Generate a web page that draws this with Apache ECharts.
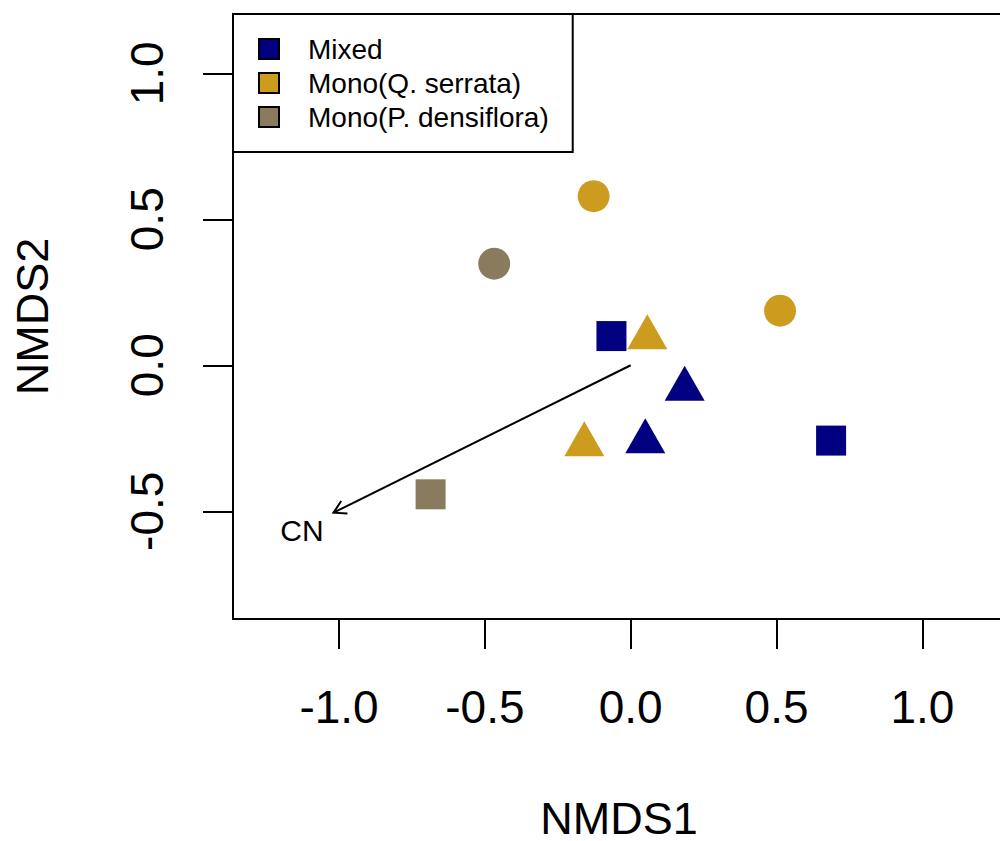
<!DOCTYPE html>
<html>
<head>
<meta charset="utf-8">
<script src="https://cdn.jsdelivr.net/npm/echarts@6/dist/echarts.min.js"></script>
<style>
  html, body { margin: 0; padding: 0; background: #fff; }
  #chart { width: 1000px; height: 841px; }
</style>
</head>
<body>
<div id="chart"></div>
<script>
// NMDS scores
const groupNames = ['Mixed', 'Mono(Q. serrata)', 'Mono(P. densiflora)'];

const mixedX = [-0.066, 0.185, 0.050, 0.687];
const mixedY = [0.100, -0.082, -0.262, -0.258];
const mixedShape = ['rect', 'triangle', 'triangle', 'rect'];

const serrataX = [-0.127, 0.512, 0.057, -0.159];
const serrataY = [0.579, 0.187, 0.094, -0.272];
const serrataShape = ['circle', 'circle', 'triangle', 'triangle'];

const densifloraX = [-0.468, -0.686];
const densifloraY = [0.348, -0.442];
const densifloraShape = ['circle', 'rect'];

// envfit vector (origin -> tip) and where its label sits
const vectorNames = ['CN'];
const vectorTipX = [-1.019];
const vectorTipY = [-0.505];
const vectorLabelX = [-1.127];
const vectorLabelY = [-0.567];

const xTicks = [-1.0, -0.5, 0.0, 0.5, 1.0];
const yTicks = [-0.5, 0.0, 0.5, 1.0];

const colors = ['#000080', '#CD9B1D', '#8A7B5E'];
const font = 'Liberation Sans, Arial, sans-serif';

// marker look, roughly like R pch 15/16/17
const markerStyle = {
  rect: { symbolSize: 30, symbolOffset: [0, 0] },
  circle: { symbolSize: 32, symbolOffset: [0, 0] },
  triangle: { symbolSize: [40, 35], symbolOffset: [0, -6] }
};

function makePoints(xs, ys, shapes) {
  return xs.map((x, i) => ({
    value: [x, ys[i]],
    symbol: shapes[i],
    symbolSize: markerStyle[shapes[i]].symbolSize,
    symbolOffset: markerStyle[shapes[i]].symbolOffset
  }));
}

const groups = [
  makePoints(mixedX, mixedY, mixedShape),
  makePoints(serrataX, serrataY, serrataShape),
  makePoints(densifloraX, densifloraY, densifloraShape)
];

const scatterSeries = groups.map((points, i) => ({
  name: groupNames[i],
  type: 'scatter',
  data: points,
  itemStyle: { color: colors[i], borderWidth: 0, opacity: 1 },
  emphasis: { disabled: true },
  z: 3
}));

const vectorData = vectorNames.map((n, i) => [0, 0, vectorTipX[i], vectorTipY[i], vectorLabelX[i], vectorLabelY[i]]);

const arrowSeries = {
  type: 'custom',
  data: vectorData,
  encode: { x: [0, 2, 4], y: [1, 3, 5] },
  z: 4,
  renderItem: function (params, api) {
    const p0 = api.coord([api.value(0), api.value(1)]);
    const p1 = api.coord([api.value(2), api.value(3)]);
    const pl = api.coord([api.value(4), api.value(5)]);
    const ang = Math.atan2(p0[1] - p1[1], p0[0] - p1[0]);
    const len = 14, spread = Math.PI / 6;
    const h1 = [p1[0] + len * Math.cos(ang + spread), p1[1] + len * Math.sin(ang + spread)];
    const h2 = [p1[0] + len * Math.cos(ang - spread), p1[1] + len * Math.sin(ang - spread)];
    return {
      type: 'group',
      children: [
        { type: 'polyline', shape: { points: [p0, p1] }, style: { stroke: '#000', lineWidth: 2, fill: null } },
        { type: 'polyline', shape: { points: [h1, p1, h2] }, style: { stroke: '#000', lineWidth: 2, fill: null } },
        {
          type: 'text', x: pl[0], y: pl[1],
          style: { text: vectorNames[params.dataIndex], fontSize: 30, fontFamily: font, fill: '#000', align: 'center', verticalAlign: 'middle' }
        }
      ]
    };
  }
};

const tickStyle = { show: true, length: 30, inside: false, lineStyle: { color: '#000', width: 2 } };

const option = {
  animation: false,
  backgroundColor: '#fff',
  grid: {
    left: 233, right: -5, top: 14, bottom: 222,
    show: true, borderColor: '#000', borderWidth: 2,
    outerBoundsMode: 'none'
  },
  legend: {
    orient: 'vertical',
    left: 233, top: 14,
    data: groupNames,
    selectedMode: false,
    icon: 'rect',
    itemWidth: 20, itemHeight: 20, itemGap: 0,
    itemStyle: { borderColor: '#000', borderWidth: 2 },
    textStyle: { fontSize: 28, fontFamily: font, color: '#000', lineHeight: 34, padding: [0, 0, 0, 24] },
    backgroundColor: '#fff',
    borderColor: '#000', borderWidth: 2, borderRadius: 0,
    padding: [18, 24, 18, 25]
  },
  xAxis: {
    type: 'value',
    min: -1.3634, max: 1.2832,
    name: 'NMDS1', nameLocation: 'middle', nameGap: 182,
    nameTextStyle: { fontSize: 45, fontFamily: font, color: '#000', lineHeight: 34 },
    axisLine: { show: false, onZero: false },
    splitLine: { show: false },
    axisTick: Object.assign({ customValues: xTicks }, tickStyle),
    axisLabel: {
      customValues: xTicks, margin: 65,
      fontSize: 46, fontFamily: font, color: '#000',
      formatter: v => v.toFixed(1)
    }
  },
  yAxis: {
    type: 'value',
    min: -0.869, max: 1.203,
    name: 'NMDS2', nameLocation: 'middle', nameGap: 178, nameRotate: 90,
    nameTextStyle: { fontSize: 45, fontFamily: font, color: '#000' },
    axisLine: { show: false, onZero: false },
    splitLine: { show: false },
    axisTick: Object.assign({ customValues: yTicks }, tickStyle),
    axisLabel: {
      customValues: yTicks, margin: 63, rotate: 90,
      fontSize: 46, fontFamily: font, color: '#000',
      formatter: v => v.toFixed(1)
    }
  },
  series: scatterSeries.concat([arrowSeries])
};

const chart = echarts.init(document.getElementById('chart'), null, { renderer: 'svg' });
chart.setOption(option);
</script>
</body>
</html>
